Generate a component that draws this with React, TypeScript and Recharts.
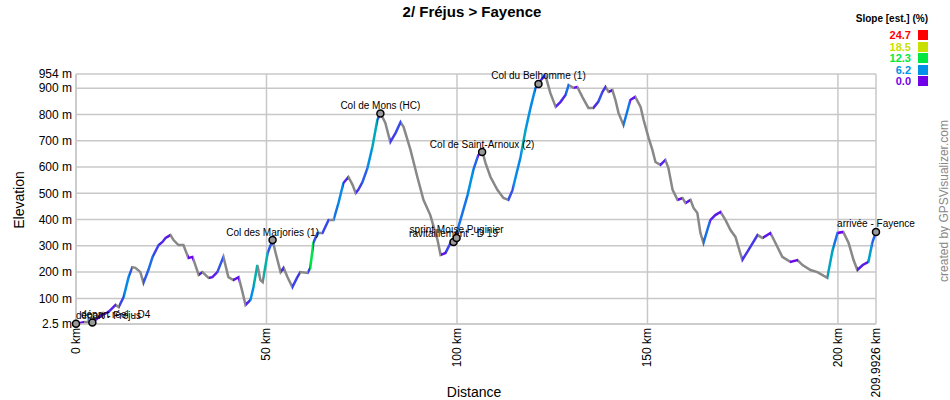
import React from "react";
import {
	ComposedChart,
	Line,
	XAxis,
	YAxis,
	CartesianGrid,
	ReferenceDot,
} from "recharts";

// profile (km, m)
const distKm = [
	0, 2.2, 4.3, 6.4, 8.5, 10.4, 11.2, 12.5, 13.8, 14.8, 15.6, 16.9, 17.7, 19.0,
	20.1, 21.7, 22.7, 23.5, 24.8, 25.6, 26.9, 28.2, 29.5, 30.6, 32.2, 33.2, 34.8,
	35.8, 37.1, 38.7, 40.0, 41.3, 42.7, 43.7, 44.5, 45.8, 46.6, 47.6, 48.4, 49.0,
	50.3, 51.6, 52.4, 53.7, 54.5, 55.5, 56.8, 58.1, 58.9, 60.8, 61.5, 62.3, 63.4,
	64.7, 66.3, 67.6, 68.9, 70.2, 71.5, 72.6, 73.4, 74.1, 75.2, 76.5, 77.8, 79.1,
	79.9, 81.2, 82.5, 83.9, 85.2, 86.0, 87.8, 89.6, 91.2, 93.0, 94.9, 95.7, 97.0,
	98.3, 99.6, 100.9, 102.8, 104.3, 105.6, 106.7, 107.5, 108.8, 110.6, 112.2,
	113.5, 114.6, 115.4, 116.7, 118.0, 119.3, 120.6, 121.4, 123.2, 124.5, 125.9,
	127.2, 128.5, 129.3, 130.6, 131.6, 132.9, 134.5, 135.8, 137.1, 138.2, 139.0,
	139.8, 140.8, 141.6, 142.4, 143.7, 144.8, 145.5, 146.8, 148.2, 149.0, 150.3,
	151.3, 152.1, 153.4, 154.7, 155.5, 156.6, 157.9, 159.2, 160.0, 161.3, 162.1,
	163.1, 163.9, 164.7, 165.7, 166.5, 167.8, 169.2, 170.5, 171.8, 173.1, 174.9,
	176.5, 178.9, 180.2, 182.3, 183.6, 185.4, 187.5, 189.4, 190.7, 192.8, 194.6,
	197.2, 198.6, 199.9, 201.4, 202.8, 204.1, 205.1, 206.5, 208.0, 209.0, 209.99,
];
const elevM = [
	3, 10, 8, 33, 48, 75, 67, 105, 181, 219, 216, 200, 159, 208, 258, 303, 315,
	330, 341, 322, 303, 303, 254, 258, 189, 200, 178, 181, 200, 258, 181, 170, 181,
	124, 75, 94, 143, 227, 170, 162, 273, 322, 273, 200, 216, 181, 143, 181, 200,
	197, 216, 311, 349, 349, 398, 398, 463, 539, 562, 532, 501, 513, 543, 596, 676,
	779, 806, 768, 695, 730, 771, 752, 665, 562, 475, 417, 322, 265, 273, 311, 334,
	398, 494, 589, 646, 657, 615, 562, 513, 482, 475, 513, 562, 638, 741, 825, 901,
	920, 950, 882, 829, 848, 874, 912, 901, 905, 867, 825, 825, 848, 886, 905, 886,
	893, 855, 806, 760, 817, 855, 867, 829, 779, 711, 665, 619, 608, 627, 596, 513,
	475, 482, 463, 475, 444, 425, 349, 311, 360, 398, 417, 429, 398, 360, 334, 246,
	284, 341, 330, 349, 311, 258, 239, 246, 227, 208, 200, 178, 284, 349, 353, 311,
	246, 208, 227, 239, 311, 353,
];

const wptNames = [
	"départ - Fréjus",
	"départ réel - D4",
	"Col des Marjories (1)",
	"Col de Mons (HC)",
	"ravitaillement - D 19",
	"sprint Moïse Puginier",
	"Col de Saint-Arnoux (2)",
	"Col du Belhomme (1)",
	"arrivée - Fayence",
];
const wptKm = [0, 4.3, 51.6, 79.9, 99.1, 99.9, 106.6, 121.4, 209.99];
const wptElev = [3, 8, 322, 804, 315, 330, 657, 916, 353];

const yTicks = [2.5, 100, 200, 300, 400, 500, 600, 700, 800, 900, 954];
const xTicks = [0, 50, 100, 150, 200, 209.9926];

const slopeSteps = [0, 6.2, 12.3, 18.5, 24.7];
const slopeColors = ["#7000e8", "#0090e8", "#00e840", "#c8e000", "#ff0000"];

const FONT = '"Liberation Sans", Arial, sans-serif';
const W = 950;
const H = 400;
const PLOT_LEFT = 76;

const data = distKm.map((km, i) => ({ km, elev: elevM[i] }));

function hexToRgb(h: string) {
	return [1, 3, 5].map((i) => parseInt(h.slice(i, i + 2), 16));
}

function slopeColor(s: number) {
	if (s <= 0) return "#888888";
	if (s >= slopeSteps[slopeSteps.length - 1]) return slopeColors[slopeColors.length - 1];
	let i = 0;
	while (s > slopeSteps[i + 1]) i++;
	const t = (s - slopeSteps[i]) / (slopeSteps[i + 1] - slopeSteps[i]);
	const a = hexToRgb(slopeColors[i]);
	const b = hexToRgb(slopeColors[i + 1]);
	const c = a.map((v, k) => Math.round(v + (b[k] - v) * t));
	return `rgb(${c[0]},${c[1]},${c[2]})`;
}

// one hard colour band per segment, from its grade
const stops: { offset: number; color: string }[] = [];
const span = distKm[distKm.length - 1];
for (let i = 0; i < distKm.length - 1; i++) {
	const dx = (distKm[i + 1] - distKm[i]) * 1000;
	const grade = ((elevM[i + 1] - elevM[i]) / dx) * 100;
	const col = slopeColor(grade);
	stops.push({ offset: distKm[i] / span, color: col });
	stops.push({ offset: distKm[i + 1] / span, color: col });
}

const fmtKm = (v: number) => `${v} km`;
const fmtM = (v: number) => `${v} m`;

function XTick(props: any) {
	const { x, y, payload } = props;
	return (
		<text
			x={x}
			y={y}
			transform={`rotate(-90, ${x}, ${y})`}
			textAnchor="end"
			dy={4}
			fontSize={12}
			fill="#000"
			fontFamily={FONT}
		>
			{fmtKm(payload.value)}
		</text>
	);
}

function WptLabel(props: any) {
	const { viewBox, value } = props;
	if (!viewBox) return null;
	const cx = viewBox.x + viewBox.width / 2;
	const top = viewBox.y - 1;
	const estW = String(value).length * 5.2;
	const clamp = cx - estW / 2 < PLOT_LEFT;
	return (
		<text
			x={clamp ? PLOT_LEFT + (cx - PLOT_LEFT) * 0.3 : cx}
			y={top}
			textAnchor={clamp ? "start" : "middle"}
			fontSize={10}
			fill="#000"
			fontFamily={FONT}
		>
			{value}
		</text>
	);
}

export default function App() {
	return (
		<div
			style={{
				position: "absolute",
				left: 0,
				top: 0,
				width: W,
				height: H,
				background: "#fff",
				fontFamily: FONT,
			}}
		>
			<div
				style={{
					position: "absolute",
					left: 0,
					width: W - 6,
					top: 3,
					textAlign: "center",
					fontWeight: "bold",
					fontSize: 15,
				}}
			>
				2/ Fréjus &gt; Fayence
			</div>

			{/* slope legend */}
			<div
				style={{
					position: "absolute",
					right: 22,
					top: 13,
					fontWeight: "bold",
					fontSize: 10,
				}}
			>
				Slope [est.] (%)
			</div>
			{slopeSteps
				.slice()
				.reverse()
				.map((s, i) => {
					const col = slopeColors[slopeColors.length - 1 - i];
					return (
						<div
							key={s}
							style={{
								position: "absolute",
								right: 22,
								top: 30 + i * 11.6,
								height: 10,
								display: "flex",
								alignItems: "center",
								gap: 7,
							}}
						>
							<span style={{ color: col, fontWeight: "bold", fontSize: 11, lineHeight: "10px" }}>
								{s.toFixed(1)}
							</span>
							<span style={{ width: 10, height: 10, background: col, display: "inline-block" }} />
						</div>
					);
				})}

			<div
				style={{
					position: "absolute",
					left: 19,
					top: 200,
					transform: "translate(-50%, -50%) rotate(-90deg)",
					fontSize: 14,
					whiteSpace: "nowrap",
				}}
			>
				Elevation
			</div>
			<div
				style={{
					position: "absolute",
					left: 474,
					top: 392,
					transform: "translate(-50%, -50%)",
					fontSize: 14,
					whiteSpace: "nowrap",
				}}
			>
				Distance
			</div>
			<div
				style={{
					position: "absolute",
					left: 944,
					top: 201,
					transform: "translate(-50%, -50%) rotate(-90deg)",
					fontSize: 12,
					color: "#888",
					whiteSpace: "nowrap",
				}}
			>
				created by GPSVisualizer.com
			</div>

			<div style={{ position: "absolute", left: 0, top: 0 }}>
				<ComposedChart
					width={W}
					height={H}
					data={data}
					margin={{ top: 74, right: 74, left: 0, bottom: 0 }}
				>
					<defs>
						<linearGradient id="slopeGrad" x1="0" y1="0" x2="1" y2="0">
							{stops.map((s, i) => (
								<stop key={i} offset={s.offset} stopColor={s.color} />
							))}
						</linearGradient>
					</defs>
					<CartesianGrid stroke="#c8c8c8" strokeWidth={1.5} />
					<XAxis
						dataKey="km"
						type="number"
						domain={[0, 209.9926]}
						ticks={xTicks}
						interval={0}
						height={76}
						tickSize={0}
						tickMargin={4}
						tickLine={false}
						axisLine={{ stroke: "#c8c8c8", strokeWidth: 1.5 }}
						tick={<XTick />}
					/>
					<YAxis
						type="number"
						domain={[2.5, 954]}
						ticks={yTicks}
						interval={0}
						width={76}
						tickSize={0}
						tickMargin={4}
						tickLine={false}
						axisLine={{ stroke: "#c8c8c8", strokeWidth: 1.5 }}
						tickFormatter={fmtM}
						tick={{ fontSize: 12, fill: "#000", fontFamily: FONT }}
					/>
					<Line
						type="linear"
						dataKey="elev"
						stroke="url(#slopeGrad)"
						strokeWidth={2.5}
						dot={false}
						isAnimationActive={false}
					/>
					{wptNames.map((name, i) => (
						<ReferenceDot
							key={name}
							x={wptKm[i]}
							y={wptElev[i]}
							r={3.5}
							fill="#999"
							stroke="#000"
							strokeWidth={1.5}
							label={<WptLabel value={name} />}
						/>
					))}
				</ComposedChart>
			</div>
		</div>
	);
}
